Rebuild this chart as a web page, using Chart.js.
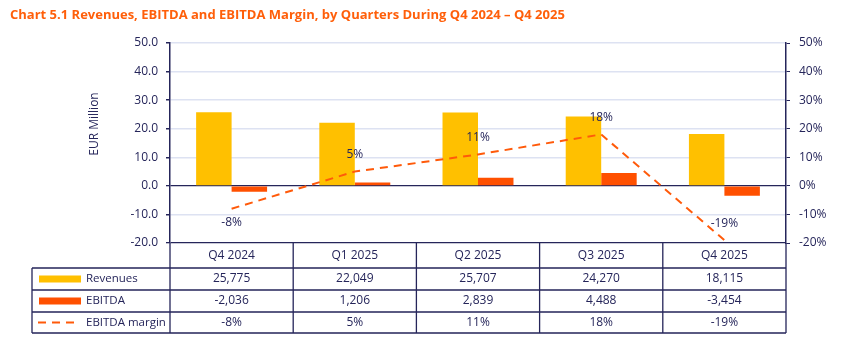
<!DOCTYPE html>
<html>
<head>
<meta charset="utf-8">
<script src="https://cdn.jsdelivr.net/npm/chart.js@4.4.1/dist/chart.umd.min.js"></script>
<style>
  html, body { margin: 0; padding: 0; background: #fff; }
  #wrap { width: 856px; height: 351px; }
</style>
</head>
<body>
<div id="wrap"><canvas id="c" width="856" height="351"></canvas></div>
<script>
// Data (revenues / EBITDA in thousand EUR, margin in %)
const quarters = ['Q4 2024', 'Q1 2025', 'Q2 2025', 'Q3 2025', 'Q4 2025'];
const revenues = [25775, 22049, 25707, 24270, 18115];
const ebitda = [-2036, 1206, 2839, 4488, -3454];
const margin = [-8, 5, 11, 18, -19];
const leftTicks = [-20, -10, 0, 10, 20, 30, 40, 50];
const rightTicks = [-20, -10, 0, 10, 20, 30, 40, 50];

const NAVY = '#25255a';
const GRID = '#dde2f2';
const YELLOW = '#ffc000';
const ORANGE = '#ff5000';
const LINE = '#ff5a0a';
const FONT = '"Open Sans", "Liberation Sans", sans-serif';

// Title, axis title, margin labels and the data table below the plot
const extras = {
  id: 'extras',
  afterDraw(chart) {
    const ctx = chart.ctx;
    const area = chart.chartArea;
    const xs = chart.scales.x;
    ctx.save();

    // title
    ctx.fillStyle = '#ff5f0a';
    ctx.font = 'bold 13px ' + FONT;
    ctx.textAlign = 'left';
    ctx.textBaseline = 'middle';
    ctx.fillText('Chart 5.1 Revenues, EBITDA and EBITDA Margin, by Quarters During Q4 2024 \u2013 Q4 2025', 10, 15);

    // y axis title
    ctx.fillStyle = NAVY;
    ctx.font = '12px ' + FONT;
    ctx.save();
    ctx.translate(95, 124);
    ctx.rotate(-Math.PI / 2);
    ctx.textAlign = 'center';
    ctx.fillText('EUR Million', 0, 0);
    ctx.restore();

    // margin labels
    const meta = chart.getDatasetMeta(2);
    ctx.textAlign = 'center';
    meta.data.forEach((pt, i) => {
      const dy = i === 0 ? 14 : -17;
      ctx.fillText(margin[i] + '%', pt.x, pt.y + dy);
    });

    // table
    const rows = [area.bottom, 268, 290, 312, 333];
    const tLeft = 32;
    const step = (xs.right - xs.left) / quarters.length;
    ctx.strokeStyle = NAVY;
    ctx.lineWidth = 1.3;
    ctx.beginPath();
    for (let i = 0; i <= quarters.length; i++) {
      const x = xs.left + step * i;
      ctx.moveTo(x, rows[0]);
      ctx.lineTo(x, rows[4]);
    }
    ctx.moveTo(tLeft, rows[1]);
    ctx.lineTo(tLeft, rows[4]);
    for (let r = 1; r < rows.length; r++) {
      ctx.moveTo(tLeft, rows[r]);
      ctx.lineTo(xs.right, rows[r]);
    }
    ctx.stroke();

    const series = [
      revenues.map(v => v.toLocaleString('en-US')),
      ebitda.map(v => v.toLocaleString('en-US')),
      margin.map(v => v + '%')
    ];
    ctx.fillStyle = NAVY;
    ctx.font = '12px ' + FONT;
    ctx.textAlign = 'center';
    series.forEach((vals, r) => {
      const cy = (rows[r + 1] + rows[r + 2]) / 2;
      vals.forEach((s, i) => ctx.fillText(s, xs.getPixelForValue(i), cy));
    });

    // legend cells
    const names = ['Revenues', 'EBITDA', 'EBITDA margin'];
    ctx.font = '11.5px ' + FONT;
    names.forEach((n, r) => {
      const cy = (rows[r + 1] + rows[r + 2]) / 2;
      if (r < 2) {
        ctx.fillStyle = r === 0 ? YELLOW : ORANGE;
        ctx.fillRect(39, cy - 3.5, 42, 7);
      } else {
        ctx.strokeStyle = LINE;
        ctx.lineWidth = 2;
        ctx.setLineDash([8, 6]);
        ctx.beginPath();
        ctx.moveTo(38, cy);
        ctx.lineTo(80, cy);
        ctx.stroke();
        ctx.setLineDash([]);
      }
      ctx.fillStyle = NAVY;
      ctx.textAlign = 'left';
      ctx.fillText(n, 86, cy);
    });
    ctx.restore();
  }
};

new Chart(document.getElementById('c'), {
  data: {
    labels: quarters,
    datasets: [
      {
        type: 'bar', label: 'Revenues', data: revenues.map(v => v / 1000),
        backgroundColor: YELLOW, yAxisID: 'y', order: 2,
        categoryPercentage: 0.576, barPercentage: 1
      },
      {
        type: 'bar', label: 'EBITDA', data: ebitda.map(v => v / 1000),
        backgroundColor: ORANGE, yAxisID: 'y', order: 2,
        categoryPercentage: 0.576, barPercentage: 1
      },
      {
        type: 'line', label: 'EBITDA margin', data: margin,
        borderColor: LINE, borderWidth: 2, borderDash: [8, 6],
        pointRadius: 0, tension: 0, yAxisID: 'y1', order: 0
      }
    ]
  },
  options: {
    responsive: false,
    animation: false,
    layout: { padding: { top: 43, left: 0, right: 0, bottom: 0 } },
    plugins: { legend: { display: false }, tooltip: { enabled: false } },
    scales: {
      x: {
        offset: true,
        grid: { display: false, drawTicks: false },
        border: { display: false },
        ticks: { color: NAVY, font: { family: FONT, size: 12 }, padding: 5 },
        afterFit: s => { s.height = 108; }
      },
      y: {
        position: 'left',
        min: -20, max: 50,
        afterBuildTicks: s => { s.ticks = leftTicks.map(v => ({ value: v })); },
        afterFit: s => { s.width = 170; },
        grid: {
          color: c => (c.tick && (c.tick.value === 0 || c.tick.value === -20)) ? NAVY : GRID,
          lineWidth: c => (c.tick && (c.tick.value === 0 || c.tick.value === -20)) ? 1.3 : 1.5,
          tickColor: NAVY, tickLength: 4
        },
        border: { color: NAVY, width: 1.5 },
        ticks: { color: NAVY, font: { family: FONT, size: 12 }, padding: 8, callback: v => v.toFixed(1) }
      },
      y1: {
        position: 'right',
        min: -20, max: 50,
        afterBuildTicks: s => { s.ticks = rightTicks.map(v => ({ value: v })); },
        afterFit: s => { s.width = 70; },
        grid: { drawOnChartArea: false, tickColor: NAVY, tickLength: 4 },
        border: { color: NAVY, width: 1.5 },
        ticks: { color: NAVY, font: { family: FONT, size: 12 }, padding: 9, callback: v => v + '%' }
      }
    }
  },
  plugins: [extras]
});
</script>
</body>
</html>
